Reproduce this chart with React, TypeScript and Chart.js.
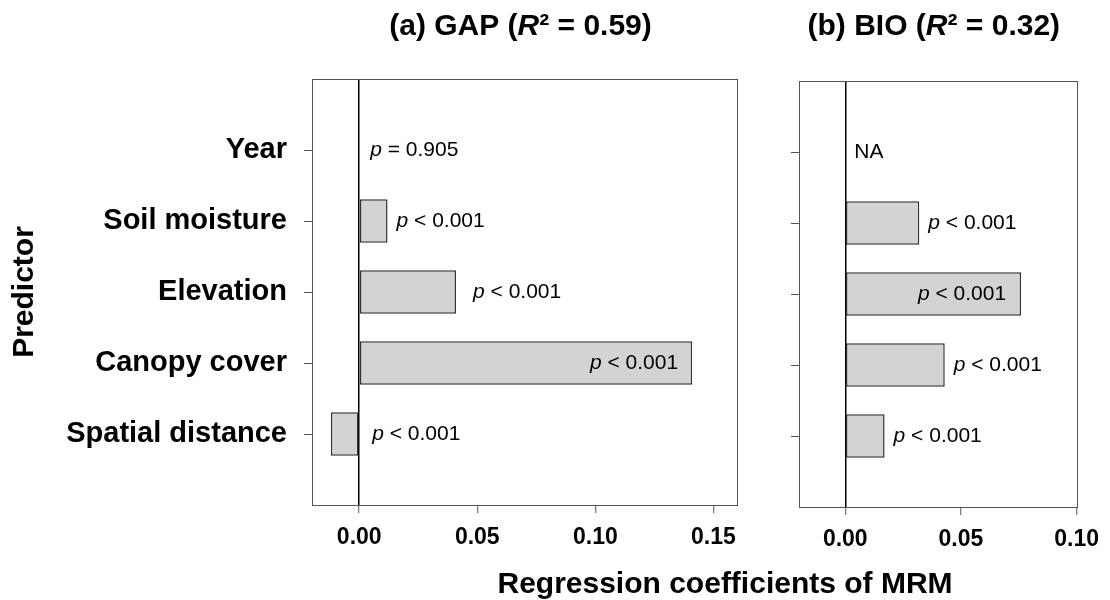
import React, { useEffect, useRef } from "react";
import { Chart, registerables } from "chart.js";
Chart.register(...registerables);

// ---------- data ----------
const predictors = ["Year", "Soil moisture", "Elevation", "Canopy cover", "Spatial distance"];
const gapValues: (number | null)[] = [0, 0.012, 0.041, 0.141, -0.012];
const bioValues: (number | null)[] = [null, 0.032, 0.076, 0.043, 0.017];
const gapLabels = ["p = 0.905", "p < 0.001", "p < 0.001", "p < 0.001", "p < 0.001"];
const bioLabels = ["NA", "p < 0.001", "p < 0.001", "p < 0.001", "p < 0.001"];
const gapTitle = ["(a) GAP (", "R", "\u00B2 = 0.59)"];
const bioTitle = ["(b) BIO (", "R", "\u00B2 = 0.32)"];
const gapTicks = [0, 0.05, 0.1, 0.15];
const bioTicks = [0, 0.05, 0.1];
const gapRange = [-0.02, 0.16];
const bioRange = [-0.02, 0.1];
const xAxisTitle = "Regression coefficients of MRM";
const yAxisTitle = "Predictor";

// ---------- label styling (placement only) ----------
const gapInside = [false, false, false, true, false];
const bioInside = [false, false, true, false, false];
const gapGap = [11, 9, 17, 14, 13];
const bioGap = [9, 9, 15, 9, 9];

const FONT = "'Liberation Sans', Arial, Helvetica, sans-serif";
Chart.defaults.font.family = FONT;
Chart.defaults.color = "#000";

const W = 1110;
const H = 600;

function drawRich(ctx: CanvasRenderingContext2D, parts: string[], cx: number, cy: number, size: number) {
  const fonts = parts.map((_, i) => (i === 1 ? `italic bold ${size}px ${FONT}` : `bold ${size}px ${FONT}`));
  let total = 0;
  const widths = parts.map((p, i) => {
    ctx.font = fonts[i];
    const w = ctx.measureText(p).width;
    total += w;
    return w;
  });
  let x = cx - total / 2;
  ctx.textBaseline = "middle";
  ctx.textAlign = "left";
  parts.forEach((p, i) => {
    ctx.font = fonts[i];
    ctx.fillText(p, x, cy);
    x += widths[i];
  });
}

function drawPLabel(ctx: CanvasRenderingContext2D, text: string, x: number, y: number, alignRight: boolean) {
  const size = 21;
  let head = "";
  let rest = text;
  if (text.startsWith("p ")) {
    head = "p";
    rest = text.slice(1);
  }
  ctx.font = `italic ${size}px ${FONT}`;
  const hw = head ? ctx.measureText(head).width : 0;
  ctx.font = `${size}px ${FONT}`;
  const rw = ctx.measureText(rest).width;
  let start = alignRight ? x - hw - rw : x;
  ctx.textBaseline = "middle";
  ctx.textAlign = "left";
  if (head) {
    ctx.font = `italic ${size}px ${FONT}`;
    ctx.fillText(head, start, y);
    start += hw;
  }
  ctx.font = `${size}px ${FONT}`;
  ctx.fillText(rest, start, y);
}

function makeConfig(opts: {
  values: (number | null)[];
  labels: string[];
  inside: boolean[];
  gaps: number[];
  title: string[];
  ticks: number[];
  range: number[];
  area: { left: number; right: number; top: number; bottom: number };
  showYLabels: boolean;
  extraText: boolean;
}): any {
  const cats = ["", ...predictors, ""];
  const data = [null, ...opts.values, null];
  const last = cats.length - 1;
  const decor = {
    id: "panelDecor",
    afterDraw(chart: any) {
      const { ctx, chartArea: a, scales } = chart;
      ctx.save();
      // frame
      ctx.strokeStyle = "#555";
      ctx.lineWidth = 1;
      ctx.strokeRect(Math.round(a.left) + 0.5, Math.round(a.top) + 0.5, Math.round(a.right - a.left), Math.round(a.bottom - a.top));
      // p-value labels
      ctx.fillStyle = "#000";
      const x = scales.x;
      const y = scales.y;
      opts.labels.forEach((lab, i) => {
        const v = opts.values[i];
        const cy = y.getPixelForValue(i + 1);
        if (opts.inside[i] && v != null) {
          drawPLabel(ctx, lab, x.getPixelForValue(v) - opts.gaps[i], cy, true);
        } else {
          const base = x.getPixelForValue(Math.max(v ?? 0, 0));
          drawPLabel(ctx, lab, base + opts.gaps[i], cy, false);
        }
      });
      // panel title
      drawRich(ctx, opts.title, (a.left + a.right) / 2 - 4, 27, 30);
      if (opts.extraText) {
        ctx.font = `bold 30px ${FONT}`;
        ctx.textAlign = "center";
        ctx.textBaseline = "middle";
        ctx.fillText(xAxisTitle, 725, 585);
      }
      ctx.restore();
    },
  };
  return {
    type: "bar",
    data: {
      labels: cats,
      datasets: [
        {
          data,
          backgroundColor: "#d3d3d3",
          borderColor: "#333",
          borderWidth: 1.5,
          borderSkipped: false,
          barPercentage: 0.61,
          categoryPercentage: 1,
        },
      ],
    },
    options: {
      indexAxis: "y",
      responsive: false,
      animation: false,
      events: [],
      layout: {
        padding: { left: 0, top: opts.area.top, right: W - opts.area.right, bottom: 0 },
      },
      plugins: {
        legend: { display: false },
        tooltip: { enabled: false },
        title: { display: false },
      },
      scales: {
        x: {
          type: "linear",
          min: opts.range[0],
          max: opts.range[1],
          afterBuildTicks: (s: any) => {
            s.ticks = opts.ticks.map((v) => ({ value: v }));
          },
          afterFit: (s: any) => {
            s.height = H - opts.area.bottom;
          },
          border: { display: false },
          grid: {
            drawOnChartArea: true,
            drawTicks: true,
            tickLength: 8,
            tickWidth: 1,
            tickColor: "#555",
            lineWidth: 1.5,
            color: (c: any) => (c.tick && c.tick.value === 0 ? "#000" : "rgba(0,0,0,0)"),
          },
          ticks: {
            autoSkip: false,
            maxRotation: 0,
            padding: 11,
            font: { size: 23, weight: "bold" },
            color: "#000",
            callback: (v: any) => Number(v).toFixed(2),
          },
        },
        y: {
          type: "category",
          offset: false,
          afterFit: (s: any) => {
            s.width = opts.area.left;
          },
          border: { display: false },
          grid: {
            offset: false,
            drawOnChartArea: false,
            drawTicks: true,
            tickLength: 8,
            tickWidth: 1,
            tickColor: (c: any) => (c.index === 0 || c.index === last ? "rgba(0,0,0,0)" : "#555"),
          },
          ticks: {
            display: opts.showYLabels,
            autoSkip: false,
            padding: 17,
            font: { size: 29, weight: "bold" },
            color: "#000",
          },
          title: {
            display: opts.showYLabels,
            text: yAxisTitle,
            font: { size: 30, weight: "bold" },
            color: "#000",
            padding: { top: 7, bottom: 4 },
          },
        },
      },
    },
    plugins: [decor],
  };
}

export default function App() {
  const refA = useRef<HTMLCanvasElement | null>(null);
  const refB = useRef<HTMLCanvasElement | null>(null);
  useEffect(() => {
    if (!refA.current || !refB.current) return;
    const a = new Chart(
      refA.current,
      makeConfig({
        values: gapValues,
        labels: gapLabels,
        inside: gapInside,
        gaps: gapGap,
        title: gapTitle,
        ticks: gapTicks,
        range: gapRange,
        area: { left: 312, right: 737, top: 79, bottom: 505 },
        showYLabels: true,
        extraText: true,
      })
    );
    const b = new Chart(
      refB.current,
      makeConfig({
        values: bioValues,
        labels: bioLabels,
        inside: bioInside,
        gaps: bioGap,
        title: bioTitle,
        ticks: bioTicks,
        range: bioRange,
        area: { left: 799, right: 1082, top: 81, bottom: 507 },
        showYLabels: false,
        extraText: false,
      })
    );
    return () => {
      a.destroy();
      b.destroy();
    };
  }, []);
  return (
    <div style={{ position: "absolute", left: 0, top: 0, width: W, height: H, background: "#fff" }}>
      <canvas ref={refA} width={W} height={H} style={{ position: "absolute", left: 0, top: 0 }} />
      <canvas ref={refB} width={W} height={H} style={{ position: "absolute", left: 0, top: 0 }} />
    </div>
  );
}
